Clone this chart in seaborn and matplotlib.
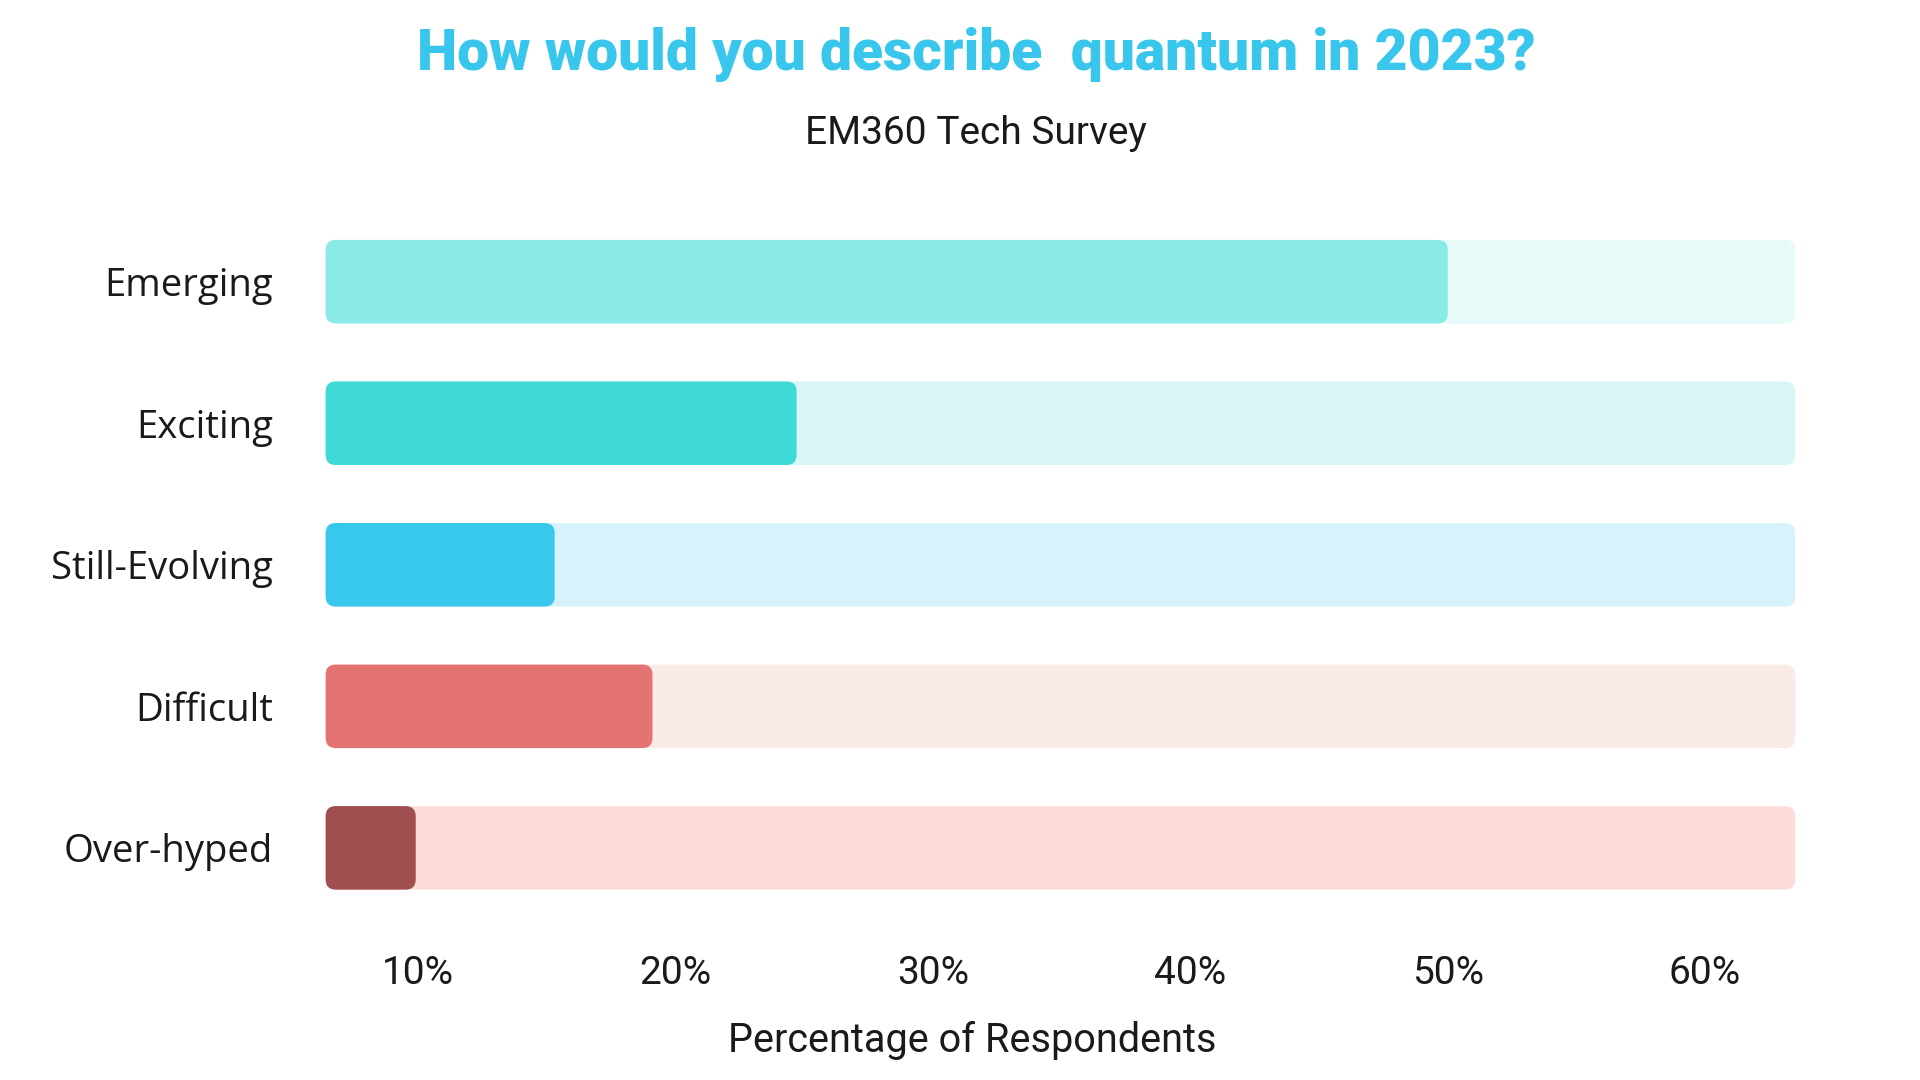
import matplotlib
matplotlib.use("Agg")
import matplotlib.pyplot as plt
import seaborn as sns
import pandas as pd
from matplotlib.patches import FancyBboxPatch

categories = ["Emerging", "Exciting", "Still-Evolving", "Difficult", "Over-hyped"]
values = [50.0, 24.7, 15.3, 19.1, 9.9]
track_end = 63.5
baseline = 6.4
fg_colors = ["#8AEAE6", "#3FD9D6", "#38C8EE", "#E37472", "#A04F4F"]
bg_colors = ["#E6FAF9", "#D7F6F5", "#D6F3FB", "#FAEAE8", "#FEDCDC"]
tick_values = [10, 20, 30, 40, 50, 60]
tick_labels = ["10%", "20%", "30%", "40%", "50%", "60%"]
title = "How would you describe  quantum in 2023?"
subtitle = "EM360 Tech Survey"
xlabel = "Percentage of Respondents"

sns.set_theme(style="white")
plt.rcParams["font.family"] = ["Open Sans", "DejaVu Sans"]

df = pd.DataFrame({"category": categories, "value": values,
                   "track": [track_end] * len(categories)})

fig = plt.figure(figsize=(19.2, 10.8), dpi=100)
ax = fig.add_axes([0.1696, 0.1494, 0.935 - 0.1696, 0.8047 - 0.1494])

sns.barplot(data=df, x="track", y="category", ax=ax, width=0.59, saturation=1,
            palette=bg_colors, hue="category", legend=False, orient="h")
sns.barplot(data=df, x="value", y="category", ax=ax, width=0.59, saturation=1,
            palette=fg_colors, hue="category", legend=False, orient="h")

ax.set_xlim(baseline, track_end)
ax.set_ylim(len(categories) - 0.5, -0.5)
fig.canvas.draw()

# convert rectangles to rounded boxes starting at the baseline
bbox = ax.get_window_extent()
xpp = (track_end - baseline) / bbox.width
ypp = len(categories) / bbox.height
aspect = ypp / xpp
radius_px = 10
patches = list(ax.patches)
for p in patches:
    x0 = baseline
    w = p.get_x() + p.get_width() - baseline
    y0 = p.get_y()
    h = p.get_height()
    fc = p.get_facecolor()
    z = p.get_zorder()
    p.remove()
    fb = FancyBboxPatch((x0, y0), w, h,
                        boxstyle=f"round,pad=0,rounding_size={radius_px * xpp}",
                        mutation_aspect=aspect, facecolor=fc, edgecolor="none",
                        zorder=z, clip_on=False)
    ax.add_patch(fb)

ax.set_xticks(tick_values)
ax.set_xticklabels(tick_labels, fontsize=28, family=["Roboto", "DejaVu Sans"], color="#1a1a1a")
ax.tick_params(axis="x", length=0, pad=26)
ax.tick_params(axis="y", length=0, pad=38)
for lab in ax.get_yticklabels():
    lab.set_fontsize(27.5)
    lab.set_color("#1a1a1a")
ax.set_xlabel("")
ax.set_ylabel("")
for s in ax.spines.values():
    s.set_visible(False)
ax.set_facecolor("white")

fig.text(0.5083, 1 - 55 / 1080, title, ha="center", va="center", fontsize=41,
         fontweight="black", color="#38C6EC", family=["Roboto", "DejaVu Sans"])
fig.text(0.5083, 1 - 134 / 1080, subtitle, ha="center", va="center", fontsize=28,
         color="#1a1a1a", family=["Roboto", "DejaVu Sans"])
fig.text(0.5063, 1 - 1041 / 1080, xlabel, ha="center", va="center", fontsize=28.5,
         color="#1a1a1a", family=["Roboto", "DejaVu Sans"])

fig.savefig("out.png", dpi=100, facecolor="white")
